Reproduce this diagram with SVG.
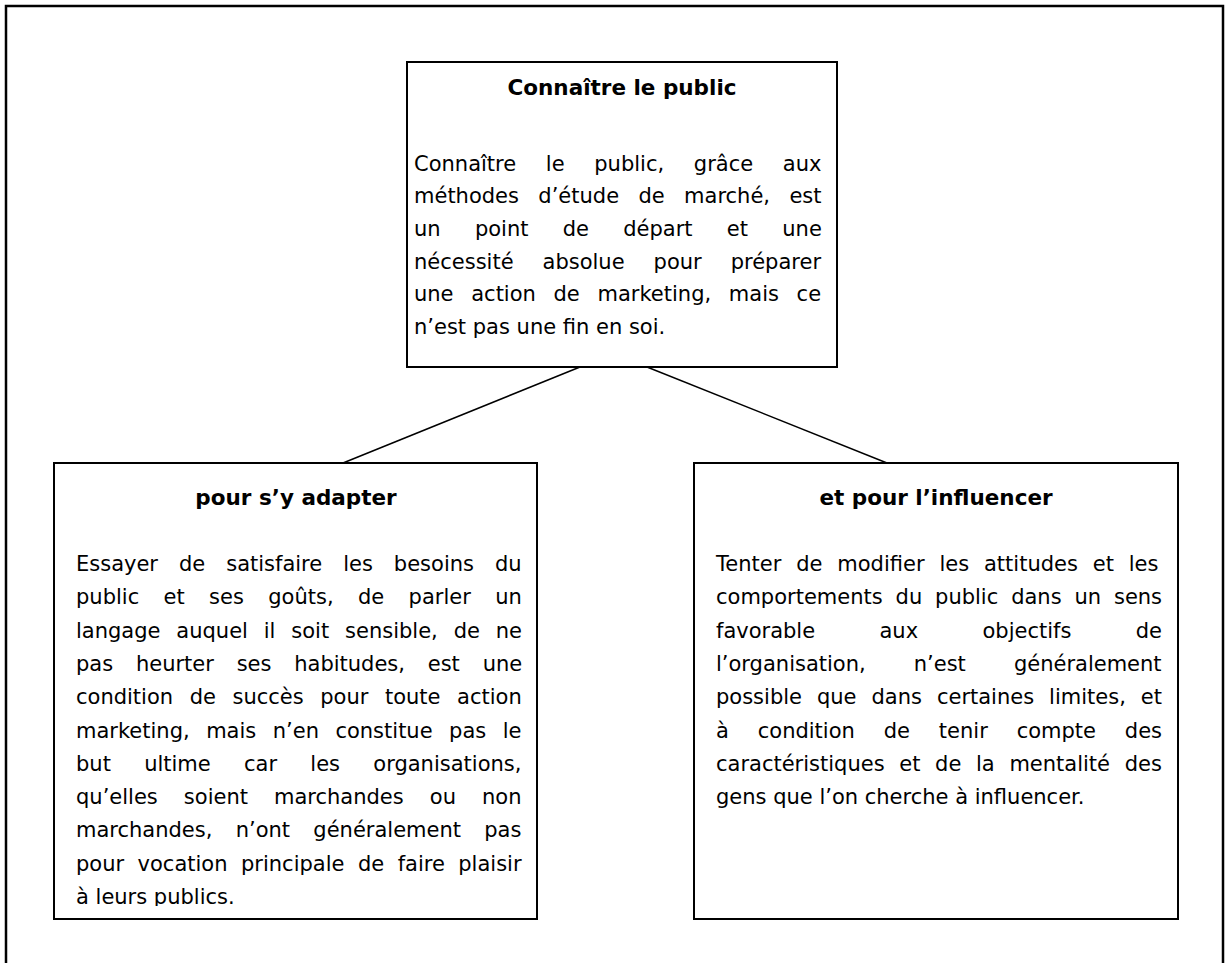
<svg xmlns="http://www.w3.org/2000/svg" width="1228" height="963" viewBox="0 0 1228 963">
<defs>
<style>
.frame{fill:none;stroke:#000;stroke-width:2.5}
.box{fill:#fff;stroke:#000;stroke-width:2}
.conn{fill:none;stroke:#000;stroke-width:1.5}
.title{font-family:"DejaVu Sans",sans-serif;font-size:21.5px;font-weight:bold;fill:#000;text-anchor:middle}
.body{font-family:"DejaVu Sans",sans-serif;font-size:21px;fill:#000}
</style>
<clipPath id="clipLeft"><rect x="54" y="463" width="483" height="443"/></clipPath>
</defs>
<rect class="frame" x="6" y="6" width="1217" height="980"/>
<g id="connectors">
<line class="conn" x1="580" y1="367" x2="343" y2="463"/>
<line class="conn" x1="647" y1="367" x2="887" y2="463"/>
</g>
<g id="node-top">
<rect class="box" x="407" y="62" width="430" height="305"/>
<text class="title" x="622" y="95">Connaître le public</text>
<text class="body" x="414" y="170.5" word-spacing="23">Connaître le public, grâce aux</text>
<text class="body" x="414" y="203.2" word-spacing="12.7">méthodes d’étude de marché, est</text>
<text class="body" x="414" y="235.9" word-spacing="27.6">un point de départ et une</text>
<text class="body" x="414" y="268.6" word-spacing="22.3">nécessité absolue pour préparer</text>
<text class="body" x="414" y="301.3" word-spacing="11">une action de marketing, mais ce</text>
<text class="body" x="414" y="334">n’est pas une fin en soi.</text>
</g>
<g id="node-left">
<rect class="box" x="54" y="463" width="483" height="456"/>
<text class="title" x="296" y="505">pour s’y adapter</text>
<g clip-path="url(#clipLeft)">
<text class="body" x="76" y="571" word-spacing="14.3">Essayer de satisfaire les besoins du</text>
<text class="body" x="76" y="604.3" word-spacing="17.7">public et ses goûts, de parler un</text>
<text class="body" x="76" y="637.6" word-spacing="9.2">langage auquel il soit sensible, de ne</text>
<text class="body" x="76" y="670.9" word-spacing="16.1">pas heurter ses habitudes, est une</text>
<text class="body" x="76" y="704.2" word-spacing="9.9">condition de succès pour toute action</text>
<text class="body" x="76" y="737.5" word-spacing="9.8">marketing, mais n’en constitue pas le</text>
<text class="body" x="76" y="770.8" word-spacing="26.6">but ultime car les organisations,</text>
<text class="body" x="76" y="804.1" word-spacing="19.4">qu’elles soient marchandes ou non</text>
<text class="body" x="76" y="837.4" word-spacing="16.6">marchandes, n’ont généralement pas</text>
<text class="body" x="76" y="870.7" word-spacing="6.8">pour vocation principale de faire plaisir</text>
<text class="body" x="76" y="904">à leurs publics.</text>
</g>
</g>
<g id="node-right">
<rect class="box" x="694" y="463" width="484" height="456"/>
<text class="title" x="936" y="505">et pour l’influencer</text>
<text class="body" x="716" y="571" word-spacing="8.2">Tenter de modifier les attitudes et les</text>
<text class="body" x="716" y="604.3" word-spacing="6.2">comportements du public dans un sens</text>
<text class="body" x="716" y="637.6" word-spacing="57.7">favorable aux objectifs de</text>
<text class="body" x="716" y="670.9" word-spacing="41.4">l’organisation, n’est généralement</text>
<text class="body" x="716" y="704.2" word-spacing="8.3">possible que dans certaines limites, et</text>
<text class="body" x="716" y="737.5" word-spacing="22.2">à condition de tenir compte des</text>
<text class="body" x="716" y="770.8" word-spacing="8">caractéristiques et de la mentalité des</text>
<text class="body" x="716" y="804.1">gens que l’on cherche à influencer.</text>
</g>
</svg>
